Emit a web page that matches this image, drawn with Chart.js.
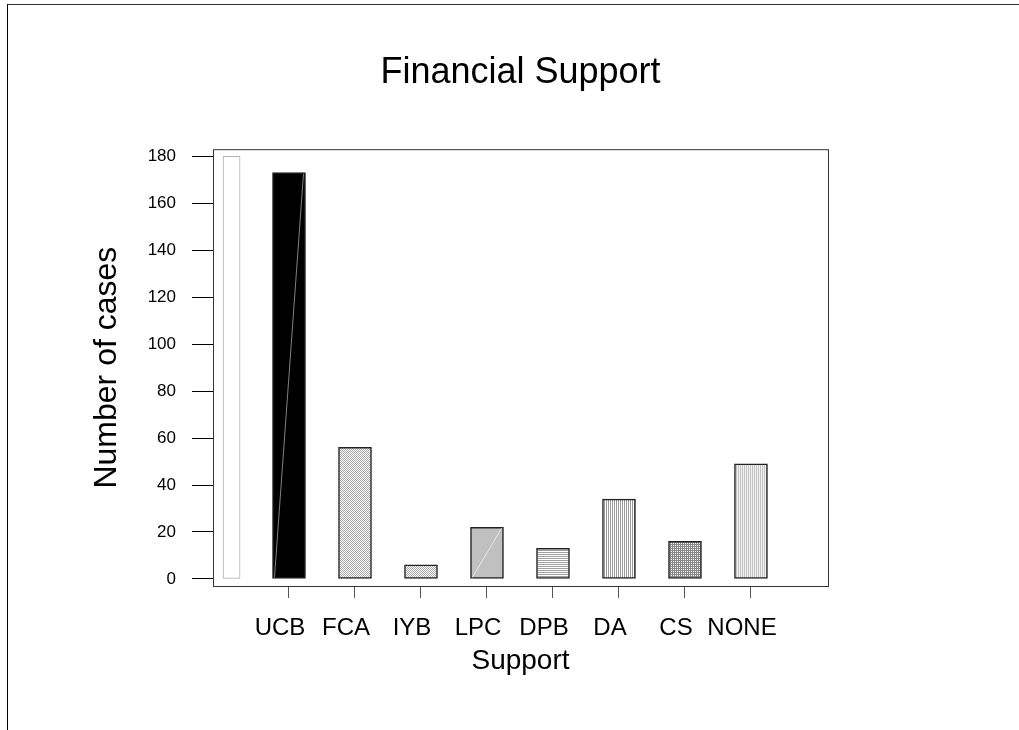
<!DOCTYPE html>
<html>
<head>
<meta charset="utf-8">
<title>Financial Support</title>
<script src="https://cdn.jsdelivr.net/npm/chart.js@4/dist/chart.umd.min.js"></script>
<style>
  body { margin: 0; background: #fff; }
  #frame { position: absolute; left: 7px; top: 4px; right: 0; bottom: 0; border-top: 1px solid #333; border-left: 1px solid #000; }
  #myChart { position: absolute; left: 0; top: 0; }
</style>
</head>
<body>
<div id="frame"></div>
<canvas id="myChart" width="1019" height="730"></canvas>
<script>
// data
const categories = ["UCB", "FCA", "IYB", "LPC", "DPB", "DA", "CS", "NONE"];
const positions = [1, 2, 3, 4, 5, 6, 7, 8];
const cases = [173, 56, 6, 22, 13, 34, 16, 49];
const yTicks = [0, 20, 40, 60, 80, 100, 120, 140, 160, 180];
// the stray empty bar at the left edge of the plot
const strayPos = [0.13];
const strayVal = [180];

const ctx = document.getElementById("myChart");
const font = "'Liberation Sans', Arial, sans-serif";

function makePattern(size, fill) {
  let c = document.createElement("canvas");
  c.width = size[0];
  c.height = size[1];
  let g = c.getContext("2d");
  g.fillStyle = "#fff";
  g.fillRect(0, 0, c.width, c.height);
  fill(g);
  return g.createPattern(c, "repeat");
}

let checker = makePattern([2, 2], (g) => {
  g.fillStyle = "#a8a8a8";
  g.fillRect(0, 0, 1, 1);
  g.fillRect(1, 1, 1, 1);
});
let hLines = makePattern([1, 2], (g) => {
  g.fillStyle = "#a0a0a0";
  g.fillRect(0, 0, 1, 1);
});
let vLines = makePattern([2, 1], (g) => {
  g.fillStyle = "#999";
  g.fillRect(0, 0, 1, 1);
});
let grid = makePattern([2, 2], (g) => {
  g.fillStyle = "#888";
  g.fillRect(0, 0, 2, 1);
  g.fillRect(0, 0, 1, 2);
});
let lightLines = makePattern([2, 1], (g) => {
  g.fillStyle = "#c4c4c4";
  g.fillRect(0, 0, 1, 1);
  g.fillStyle = "#f2f2f2";
  g.fillRect(1, 0, 1, 1);
});

const barFills = ["#000", checker, checker, "#c0c0c0", hLines, vLines, grid, lightLines];
const lineTint = ["#808080", null, null, "#e6e6e6", null, null, null, null];

const diagonals = {
  id: "diagonals",
  afterDatasetsDraw(chart) {
    let c = chart.ctx;
    let meta = chart.getDatasetMeta(0);
    c.save();
    c.lineWidth = 1;
    meta.data.forEach((bar, i) => {
      if (!lineTint[i]) return;
      let p = bar.getProps(["x", "y", "base", "width"], true);
      c.strokeStyle = lineTint[i];
      c.beginPath();
      c.moveTo(p.x - p.width / 2 + 2, p.base - 1);
      c.lineTo(p.x + p.width / 2 - 2, p.y + 1);
      c.stroke();
    });
    c.restore();
  },
};

const plotBox = {
  id: "plotBox",
  afterDraw(chart) {
    let a = chart.chartArea;
    let c = chart.ctx;
    c.save();
    c.strokeStyle = "#333";
    c.lineWidth = 1;
    c.strokeRect(a.left + 0.5, a.top + 0.5, a.right - a.left, a.bottom - a.top);
    c.restore();
  },
};

let myChart = new Chart(ctx, {
  type: "bar",
  data: {
    datasets: [
      {
        label: "Number of cases",
        data: positions.map((p, i) => ({ x: p, y: cases[i] })),
        backgroundColor: barFills,
        borderColor: "#222",
        borderWidth: 1.5,
        borderSkipped: false,
        barThickness: 33,
        grouped: false,
      },
      {
        label: "",
        data: strayPos.map((p, i) => ({ x: p, y: strayVal[i] })),
        backgroundColor: "#fff",
        borderColor: "#b0b0b0",
        borderWidth: 1,
        borderSkipped: false,
        barThickness: 17,
        grouped: false,
      },
    ],
  },
  options: {
    responsive: false,
    animation: false,
    layout: { padding: { left: 0, right: 191, top: 0, bottom: 0 } },
    plugins: {
      legend: { display: false },
      tooltip: { enabled: false },
      title: {
        display: true,
        text: "Financial Support",
        fullSize: false,
        color: "#000",
        font: { family: font, size: 36, weight: "normal" },
        padding: { top: 51, bottom: 55 },
      },
    },
    scales: {
      x: {
        type: "linear",
        offset: false,
        min: -0.1515,
        max: 9.167,
        afterBuildTicks: (scale) => {
          scale.ticks = positions.map((v) => ({ value: v }));
        },
        afterFit: (scale) => {
          scale.height = 144;
        },
        grid: { offset: false, drawOnChartArea: false, tickLength: 12, tickColor: "#555", tickWidth: 1 },
        border: { display: false },
        ticks: {
          autoSkip: false,
          maxRotation: 0,
          padding: 16,
          labelOffset: -9,
          color: "#000",
          font: { family: font, size: 24 },
          callback: (v) => categories[positions.indexOf(v)] || "",
        },
        title: {
          display: true,
          text: "Support",
          color: "#000",
          font: { family: font, size: 28 },
          padding: { top: 0, bottom: 52 },
        },
      },
      y: {
        min: -3,
        max: 183,
        afterBuildTicks: (scale) => {
          scale.ticks = yTicks.map((v) => ({ value: v }));
        },
        afterFit: (scale) => {
          scale.width = 213;
        },
        grid: { drawOnChartArea: false, tickLength: 21, tickColor: "#000", tickWidth: 1 },
        border: { display: false },
        ticks: {
          padding: 16,
          color: "#000",
          font: { family: font, size: 17 },
        },
        title: {
          display: true,
          text: "Number of cases",
          color: "#000",
          font: { family: font, size: 32 },
          padding: { top: 88, bottom: 0 },
        },
      },
    },
  },
  plugins: [diagonals, plotBox],
});
</script>
</body>
</html>
